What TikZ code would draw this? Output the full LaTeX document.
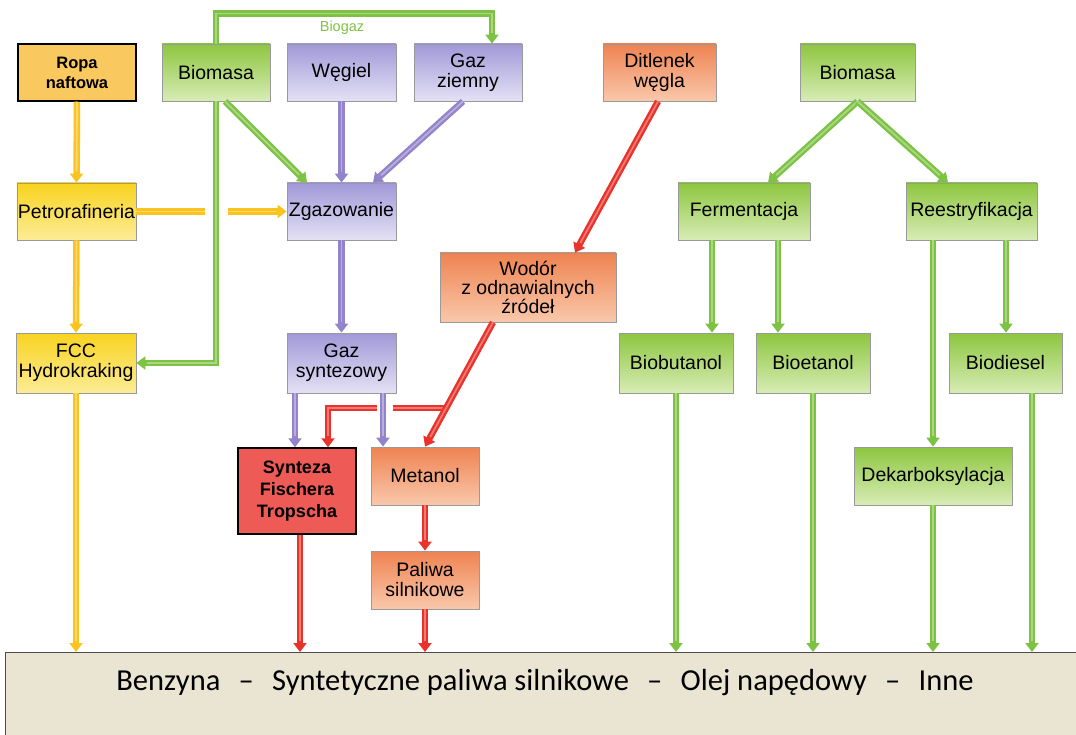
\documentclass[tikz,border=0pt]{standalone}
\usepackage{fontspec}
\setmainfont{Liberation Sans}
\newfontfamily\calibri[Ligatures=TeX]{Carlito}
\usetikzlibrary{arrows.meta,calc}
\definecolor{grntop}{HTML}{8DC63F}
\definecolor{grnbot}{HTML}{D8ECB6}
\definecolor{viotop}{HTML}{A199D8}
\definecolor{viobot}{HTML}{E4E1F5}
\definecolor{ylwtop}{HTML}{F9D320}
\definecolor{ylwbot}{HTML}{FCEC96}
\definecolor{orgtop}{HTML}{EF8352}
\definecolor{orgbot}{HTML}{F9C8AB}
\definecolor{ropafill}{HTML}{F9C85E}
\definecolor{ftfill}{HTML}{EE5B56}
\definecolor{grnline}{HTML}{7DC243}
\definecolor{violine}{HTML}{9283CA}
\definecolor{ylwline}{HTML}{FAC31E}
\definecolor{redline}{HTML}{E8322A}
\definecolor{fuelfill}{HTML}{EAE4D3}
\newcommand\fuelsep{\hspace{0.6em}–\hspace{0.6em}}

\begin{document}
\begin{tikzpicture}[x=1pt,y=-1pt,
  box/.style={draw=black!40, line width=0.8pt, align=center, inner sep=1pt,
    font=\fontsize{19.5}{20}\selectfont, minimum height=57pt},
  green box/.style={box, top color=grntop, bottom color=grnbot},
  violet box/.style={box, top color=viotop, bottom color=viobot},
  yellow box/.style={box, top color=ylwtop, bottom color=ylwbot},
  orange box/.style={box, top color=orgtop, bottom color=orgbot},
  flow/.style={draw=#1, line width=6.5pt, -{Triangle[length=9pt,width=13pt]},
    postaction={draw=#1!65!white, line width=1.8pt, arrows=-, shorten >=11pt}},
  pipe/.style={draw=#1, line width=6.5pt,
    postaction={draw=#1!65!white, line width=1.8pt}}]
\useasboundingbox (0,0) rectangle (1076,735);

% first row
\node[box, fill=ropafill, draw=black, line width=1.5pt, minimum width=118pt,
  font=\fontsize{16.5}{20}\selectfont\bfseries] (ropa) at (77,72.5) {Ropa\\naftowa};
\node[green box, minimum width=108pt] (bioL) at (216,72.5) {Biomasa};
\node[violet box, minimum width=109pt] (wegiel) at (341.5,72.5) {Węgiel};
\node[violet box, minimum width=108pt] (gaz) at (468,72.5) {Gaz\\ziemny};
\node[orange box, minimum width=113pt] (co2) at (659.5,72.5) {Ditlenek\\węgla};
\node[green box, minimum width=115pt] (bioR) at (857.5,72.5) {Biomasa};

% second row
\node[yellow box, minimum width=119pt] (petro) at (76.5,211.5) {Petrorafineria};
\node[violet box, minimum width=109pt] (zgaz) at (341.5,211.5) {Zgazowanie};
\node[green box, minimum width=132pt] (ferm) at (744,211.5) {Fermentacja};
\node[green box, minimum width=131pt] (reest) at (971.5,211.5) {Reestryfikacja};
\node[orange box, minimum width=176pt, minimum height=69pt,
  font=\fontsize{19.5}{19}\selectfont] (wodor) at (528,287.5) {Wodór\\z odnawialnych\\źródeł};

% third row
\node[yellow box, minimum width=120pt, minimum height=60pt] (fcc) at (76,363) {FCC\\Hydrokraking};
\node[violet box, minimum width=109pt, minimum height=60pt] (syngaz) at (341.5,363) {Gaz\\syntezowy};
\node[green box, minimum width=114pt, minimum height=60pt] (biobut) at (676,363) {Biobutanol};
\node[green box, minimum width=114pt, minimum height=60pt] (bioet) at (813,363) {Bioetanol};
\node[green box, minimum width=113pt, minimum height=60pt] (biodies) at (1005.5,363) {Biodiesel};

% fourth row
\node[box, fill=ftfill, draw=black, line width=1.5pt, minimum width=118pt,
  minimum height=86pt, font=\fontsize{18}{22}\selectfont\bfseries] (ft) at (297,491)
  {Synteza\\Fischera\\Tropscha};
\node[orange box, minimum width=108pt, minimum height=58pt] (metanol) at (425,476) {Metanol};
\node[green box, minimum width=158pt, minimum height=58pt] (dekarb) at (933,476) {Dekarboksylacja};
\node[orange box, minimum width=108pt, minimum height=58pt] (paliwa) at (425,580) {Paliwa\\silnikowe};

% products
\node[draw=black!70, line width=1.2pt, fill=fuelfill, anchor=north west,
  minimum width=1090pt, minimum height=95pt] (fuels) at (5,652) {};
\node[font=\calibri\fontsize{30.5}{32}\selectfont] (fuelsText) at (545,683)
  {Benzyna\fuelsep Syntetyczne paliwa silnikowe\fuelsep Olej napędowy\fuelsep Inne};

% biogaz loop
\node[text=grnline, font=\fontsize{14.5}{16}\selectfont] (biogazLbl) at (342,28) {Biogaz};
\draw[flow=grnline] (bioL.north) -- ++(0,-30) -| ([xshift=24pt]gaz.north);
\draw[flow=grnline] (bioL.south) |- (fcc.east);

% yellow path
\coordinate (petroGap) at ([xshift=69pt]petro.east);
\coordinate (zgazGap) at ([xshift=-59pt]zgaz.west);
\draw[flow=ylwline] (ropa.south) -- (petro.north);
\draw[pipe=ylwline] (petro.east) -- (petroGap);
\draw[flow=ylwline] (zgazGap) -- (zgaz.west);
\draw[flow=ylwline] (petro.south) -- (fcc.north);
\draw[flow=ylwline] (fcc.south) -- (fcc.south |- fuels.north);

% gasification
\draw[flow=grnline] ([xshift=9pt]bioL.south) -- ([xshift=-34.5pt]zgaz.north);
\draw[flow=violine] (wegiel.south) -- (zgaz.north);
\draw[flow=violine] ([xshift=-5pt]gaz.south) -- ([xshift=31.5pt]zgaz.north);
\draw[flow=violine] (zgaz.south) -- (syngaz.north);

% hydrogen and methanol
\coordinate (h2) at ($([xshift=-35pt]wodor.south)!0.69!(metanol.north)$);
\coordinate (redGapR) at ($(h2 -| syngaz.south)+(51.5,0)$);
\coordinate (redGapL) at ($(h2 -| syngaz.south)+(35.5,0)$);
\draw[pipe=redline] (h2) -- (redGapR);
\draw[flow=redline] (redGapL) -| ([xshift=31pt]ft.north);
\draw[flow=violine] ([xshift=-46.5pt]syngaz.south) -- ([xshift=-46.5pt]syngaz.south |- ft.north);
\draw[flow=violine] ([xshift=41.5pt]syngaz.south) -- ([xshift=41.5pt]syngaz.south |- metanol.north);
\draw[flow=redline] ([xshift=-1.5pt]co2.south) -- ([xshift=47pt]wodor.north);
\draw[flow=redline] ([xshift=-35pt]wodor.south) -- (metanol.north);
\draw[flow=redline] (metanol.south) -- (paliwa.north);
\draw[flow=redline] (paliwa.south) -- (paliwa.south |- fuels.north);
\draw[flow=redline] ([xshift=3pt]ft.south) -- ([xshift=3pt]ft.south |- fuels.north);

% biofuels
\draw[flow=grnline] (bioR.south) -- ([xshift=24pt]ferm.north);
\draw[flow=grnline] (bioR.south) -- ([xshift=-23.5pt]reest.north);
\draw[flow=grnline] ([xshift=-32pt]ferm.south) -- ([xshift=-32pt]ferm.south |- biobut.north);
\draw[flow=grnline] ([xshift=34pt]ferm.south) -- ([xshift=34pt]ferm.south |- bioet.north);
\draw[flow=grnline] ([xshift=-38.5pt]reest.south) -- ([xshift=-38.5pt]reest.south |- dekarb.north);
\draw[flow=grnline] ([xshift=34.5pt]reest.south) -- ([xshift=34.5pt]reest.south |- biodies.north);
\draw[flow=grnline] (biobut.south) -- (biobut.south |- fuels.north);
\draw[flow=grnline] (bioet.south) -- (bioet.south |- fuels.north);
\draw[flow=grnline] (dekarb.south) -- (dekarb.south |- fuels.north);
\draw[flow=grnline] ([xshift=26.5pt]biodies.south) -- ([xshift=26.5pt]biodies.south |- fuels.north);
\end{tikzpicture}
\end{document}
